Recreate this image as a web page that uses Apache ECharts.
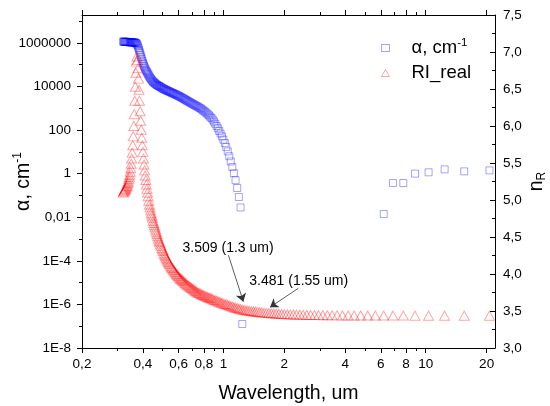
<!DOCTYPE html>
<html>
<head>
<meta charset="utf-8">
<title>Si: absorption and refractive index</title>
<script src="https://cdn.jsdelivr.net/npm/echarts@6/dist/echarts.min.js"></script>
<style>
  html, body { margin: 0; padding: 0; background: #fff; }
  #chart { width: 550px; height: 406px; }
</style>
</head>
<body>
<div id="chart"></div>
<script>
// Wavelength grid, um (photon-energy steps of 0.02 eV, 3.88 eV down to 0.06 eV)
const wavelength = [
  0.3196, 0.3212, 0.3229, 0.3246, 0.3263, 0.3280, 0.3297, 0.3315, 0.3333, 0.3351,
  0.3369, 0.3388, 0.3406, 0.3425, 0.3444, 0.3463, 0.3483, 0.3502, 0.3522, 0.3542,
  0.3563, 0.3583, 0.3604, 0.3625, 0.3647, 0.3668, 0.3690, 0.3712, 0.3735, 0.3757,
  0.3780, 0.3803, 0.3827, 0.3850, 0.3875, 0.3899, 0.3924, 0.3949, 0.3974, 0.4000,
  0.4026, 0.4052, 0.4078, 0.4105, 0.4133, 0.4161, 0.4189, 0.4217, 0.4246, 0.4275,
  0.4305, 0.4335, 0.4366, 0.4397, 0.4428, 0.4460, 0.4492, 0.4525, 0.4558, 0.4592,
  0.4626, 0.4661, 0.4696, 0.4732, 0.4769, 0.4806, 0.4843, 0.4881, 0.4920, 0.4959,
  0.4999, 0.5040, 0.5081, 0.5123, 0.5166, 0.5209, 0.5254, 0.5298, 0.5344, 0.5391,
  0.5438, 0.5486, 0.5535, 0.5585, 0.5636, 0.5687, 0.5740, 0.5794, 0.5848, 0.5904,
  0.5961, 0.6019, 0.6078, 0.6138, 0.6199, 0.6262, 0.6326, 0.6391, 0.6458, 0.6526,
  0.6595, 0.6666, 0.6738, 0.6812, 0.6888, 0.6965, 0.7045, 0.7126, 0.7208, 0.7293,
  0.7380, 0.7469, 0.7560, 0.7653, 0.7749, 0.7847, 0.7948, 0.8051, 0.8157, 0.8266,
  0.8377, 0.8492, 0.8610, 0.8731, 0.8856, 0.8984, 0.9117, 0.9253, 0.9393, 0.9537,
  0.9686, 0.9840, 0.9999, 1.0163, 1.0332, 1.0507, 1.0688, 1.0876, 1.1070, 1.1271,
  1.1480, 1.1697, 1.1922, 1.2155, 1.2398,
  1.2651, 1.2915, 1.3190, 1.3477, 1.3776, 1.4089, 1.4417, 1.4760, 1.5120, 1.5498,
  1.5895, 1.6314, 1.6755, 1.7220, 1.7712, 1.8233, 1.8786, 1.9373, 1.9997, 2.0664,
  2.1377, 2.2140, 2.2960, 2.3843, 2.4797, 2.5830, 2.6953, 2.8178, 2.9520, 3.0996,
  3.2627, 3.4440, 3.6466, 3.8745, 4.1328, 4.4280, 4.7686, 5.1660, 5.6356, 6.1992,
  6.8880, 7.7490, 8.8560, 10.332, 12.398, 15.498, 20.664
];

// Real part of the refractive index, one value per wavelength
const nReal = [
  5.10, 5.11, 5.12, 5.13, 5.14, 5.15, 5.16, 5.18, 5.19, 5.21,
  5.23, 5.25, 5.28, 5.31, 5.34, 5.38, 5.43, 5.49, 5.56, 5.64,
  5.74, 5.86, 6.00, 6.16, 6.34, 6.53, 6.72, 6.87, 6.94, 6.89,
  6.78, 6.64, 6.49, 6.34, 6.20, 6.07, 5.95, 5.84, 5.74, 5.65,
  5.56, 5.48, 5.40, 5.33, 5.27, 5.21, 5.15, 5.10, 5.05, 4.99,
  4.94, 4.90, 4.86, 4.82, 4.79, 4.76, 4.72, 4.69, 4.66, 4.63,
  4.60, 4.57, 4.54, 4.51, 4.48, 4.45, 4.43, 4.40, 4.38, 4.35,
  4.33, 4.31, 4.28, 4.26, 4.24, 4.22, 4.20, 4.18, 4.16, 4.14,
  4.13, 4.11, 4.09, 4.08, 4.06, 4.05, 4.03, 4.02, 4.00, 3.99,
  3.975, 3.965, 3.95, 3.94, 3.93, 3.92, 3.905, 3.895, 3.88, 3.87,
  3.86, 3.85, 3.84, 3.83, 3.82, 3.81, 3.80, 3.79, 3.78, 3.77,
  3.76, 3.75, 3.745, 3.74, 3.73, 3.72, 3.715, 3.71, 3.70, 3.695,
  3.69, 3.68, 3.675, 3.67, 3.66, 3.65, 3.645, 3.64, 3.63, 3.625,
  3.615, 3.61, 3.60, 3.595, 3.59, 3.58, 3.575, 3.565, 3.56, 3.55,
  3.545, 3.54, 3.53, 3.525, 3.518,
  3.513, 3.509, 3.505, 3.501, 3.497, 3.494, 3.491, 3.488, 3.484, 3.481,
  3.478, 3.475, 3.472, 3.469, 3.467, 3.464, 3.462, 3.460, 3.458, 3.456,
  3.454, 3.452, 3.451, 3.449, 3.448, 3.447, 3.446, 3.445, 3.444, 3.443,
  3.442, 3.441, 3.441, 3.440, 3.440, 3.439, 3.439, 3.439, 3.438, 3.438,
  3.438, 3.438, 3.437, 3.437, 3.437, 3.437, 3.437
];

// Absorption coefficient, cm-1, for the first 145 wavelengths (interband edge)
const alphaBand = [
  1.15e6, 1.15e6, 1.12e6, 1.12e6, 1.12e6, 1.12e6, 1.12e6, 1.10e6, 1.10e6, 1.10e6,
  1.10e6, 1.10e6, 1.07e6, 1.07e6, 1.07e6, 1.07e6, 1.07e6, 1.07e6, 1.05e6, 1.05e6,
  1.05e6, 1.05e6, 1.05e6, 1.05e6, 1.02e6, 1.02e6, 1.00e6, 9.55e5, 8.91e5, 7.94e5,
  6.92e5, 5.89e5, 4.90e5, 4.07e5, 3.39e5, 2.75e5, 2.24e5, 1.82e5, 1.48e5, 1.23e5,
  1.05e5, 8.91e4, 7.59e4, 6.61e4, 5.75e4, 5.13e4, 4.57e4, 4.07e4, 3.63e4, 3.24e4,
  2.88e4, 2.57e4, 2.34e4, 2.14e4, 1.95e4, 1.78e4, 1.66e4, 1.55e4, 1.48e4, 1.38e4,
  1.32e4, 1.23e4, 1.17e4, 1.12e4, 1.07e4, 1.05e4, 1.00e4, 9550, 9120, 8710,
  8320, 7940, 7590, 7410, 7080, 6760, 6610, 6310, 6170, 5890,
  5620, 5500, 5250, 5010, 4900, 4680, 4470, 4370, 4170, 3980,
  3800, 3630, 3470, 3310, 3160, 2950, 2820, 2690, 2510, 2400,
  2240, 2140, 2000, 1910, 1780, 1700, 1580, 1510, 1410, 1320,
  1260, 1170, 1100, 1020, 955, 871, 794, 724, 661, 589,
  525, 468, 407, 355, 302, 245, 195, 155, 120, 91.2,
  69.2, 51.3, 36.3, 25.1, 16.6, 10.5, 6.31, 3.63, 2.0, 1.05,
  0.50, 0.219, 0.085, 0.028, 1.26e-7
];

// Absorption coefficient, cm-1, for the last 8 wavelengths (free-carrier range)
const alphaFreeCarrier = [0.014, 0.37, 0.37, 1.0, 1.15, 1.57, 1.27, 1.41];

// Axis ticks and labels
const xMajorTicks = [0.2, 0.4, 0.6, 0.8, 1, 2, 4, 6, 8, 10, 20];
const xMinorTicks = [0.3, 0.5, 0.7, 0.9, 3, 5, 7, 9];
const alphaTickValues = [1e-8, 1e-6, 1e-4, 1e-2, 1, 1e2, 1e4, 1e6];
const alphaTickLabels = ['1E-8', '1E-6', '1E-4', '0,01', '1', '100', '10000', '1000000'];
const alphaMinorTicks = [1e-7, 1e-5, 1e-3, 0.1, 10, 1e3, 1e5, 1e7];

// Annotated points on the refractive-index curve
const callouts = [
  { wl: 1.2915, wlText: '1.3 um',  textAt: [1.0548, 4.348], from: [1.0584, 4.254], to: [1.2549, 3.626] },
  { wl: 1.5498, wlText: '1.55 um', textAt: [2.357, 3.905],  from: [2.343, 3.806],  to: [1.6995, 3.551] }
];

const FONT = 'Liberation Sans, Arial, sans-serif';

const alphaData = alphaBand.map((a, i) => [wavelength[i], a])
  .concat(alphaFreeCarrier.map((a, i) => [wavelength[wavelength.length - alphaFreeCarrier.length + i], a]));
const nData = nReal.map((n, i) => [wavelength[i], n]);

const calloutText = callouts.map(c => nReal[wavelength.indexOf(c.wl)].toFixed(3) + ' (' + c.wlText + ')');

const blackLine = { show: true, lineStyle: { color: '#000', width: 1 } };
const xRange = { min: 0.2, max: 22 };
const alphaRange = { min: 1e-8, max: 1.9e7 };

function commaDecimal(v) { return String(v).replace('.', ','); }
function alphaLabel(v) {
  const i = alphaTickValues.findIndex(t => Math.abs(Math.log10(t) - Math.log10(v)) < 1e-6);
  return i >= 0 ? alphaTickLabels[i] : '';
}

function xAxisDef(position, ticks, len, withLabels) {
  return Object.assign({
    type: 'log', position: position, gridIndex: 0,
    axisLine: withLabels !== null ? blackLine : { show: false },
    axisTick: { show: true, customValues: ticks, length: len, lineStyle: { color: '#000', width: 1 } },
    axisLabel: withLabels ? {
      show: true, customValues: ticks, formatter: commaDecimal,
      color: '#000', fontSize: 13.5, fontFamily: FONT, margin: 9
    } : { show: false },
    splitLine: { show: false },
    minorTick: { show: false }
  }, xRange);
}

const chart = echarts.init(document.getElementById('chart'), null, { renderer: 'canvas' });

chart.setOption({
  animation: false,
  backgroundColor: '#fff',
  textStyle: { fontFamily: FONT },
  grid: { left: 82, right: 55, top: 15, bottom: 58, containLabel: false, outerBoundsMode: 'none' },
  legend: {
    orient: 'vertical', left: 381, top: 37, padding: 0,
    itemWidth: 8, itemHeight: 7, itemGap: 6,
    selectedMode: false,
    itemStyle: { borderWidth: 1 },
    formatter: name => name === 'α, cm-1' ? '{m|α, cm}{s|-1}' : '{m|' + name + '}',
    textStyle: {
      color: '#000', fontFamily: FONT, fontSize: 18.5,
      rich: {
        m: { fontSize: 18.5, fontFamily: FONT, color: '#000', lineHeight: 22, padding: [0, 0, 0, 17] },
        s: { fontSize: 11.5, fontFamily: FONT, color: '#000', verticalAlign: 'top', lineHeight: 13 }
      }
    },
    data: ['α, cm-1', 'RI_real']
  },
  xAxis: [
    Object.assign(xAxisDef('bottom', xMajorTicks, 5, true), {
      name: 'Wavelength, um', nameLocation: 'middle', nameGap: 36,
      nameTextStyle: { color: '#000', fontSize: 19.5, fontFamily: FONT }
    }),
    xAxisDef('bottom', xMinorTicks, 3, null),
    xAxisDef('top', xMajorTicks, 5, false),
    xAxisDef('top', xMinorTicks, 3, null)
  ],
  yAxis: [
    Object.assign({
      type: 'log', position: 'left',
      axisLine: blackLine,
      axisTick: { show: true, customValues: alphaTickValues, length: 5, lineStyle: { color: '#000' } },
      axisLabel: {
        customValues: alphaTickValues, formatter: alphaLabel,
        color: '#000', fontSize: 13.5, fontFamily: FONT, margin: 11
      },
      splitLine: { show: false },
      minorTick: { show: false },
      name: '{m|α, cm}{s|-1}', nameLocation: 'middle', nameGap: 47, nameMoveOverlap: false,
      nameTextStyle: {
        color: '#000', fontSize: 19.5, fontFamily: FONT,
        rich: {
          m: { fontSize: 19.5, fontFamily: FONT, color: '#000', lineHeight: 23 },
          s: { fontSize: 12, fontFamily: FONT, color: '#000', verticalAlign: 'top', lineHeight: 13 }
        }
      }
    }, alphaRange),
    {
      type: 'value', position: 'right', min: 3, max: 7.5, interval: 0.5,
      axisLine: blackLine,
      axisTick: { show: true, inside: true, length: 5, lineStyle: { color: '#000' } },
      minorTick: { show: true, splitNumber: 2, length: 3, lineStyle: { color: '#000' } },
      axisLabel: {
        formatter: v => v.toFixed(1).replace('.', ','),
        color: '#000', fontSize: 13.5, fontFamily: FONT, margin: 8
      },
      splitLine: { show: false },
      name: '{n|n}{r|R}', nameLocation: 'middle', nameGap: 30, nameMoveOverlap: false,
      nameTextStyle: {
        color: '#000', fontSize: 19.5, fontFamily: FONT,
        rich: {
          n: { fontSize: 19.5, fontFamily: FONT, color: '#000', lineHeight: 23 },
          r: { fontSize: 12, fontFamily: FONT, color: '#000', verticalAlign: 'bottom', lineHeight: 13 }
        }
      }
    },
    Object.assign({
      type: 'log', position: 'left',
      axisLine: { show: false },
      axisTick: { show: true, customValues: alphaMinorTicks, length: 3, lineStyle: { color: '#000' } },
      axisLabel: { show: false },
      splitLine: { show: false },
      minorTick: { show: false }
    }, alphaRange)
  ],
  series: [
    {
      type: 'scatter', name: 'α, cm-1', xAxisIndex: 0, yAxisIndex: 0,
      data: alphaData,
      symbol: 'rect', symbolSize: 7,
      itemStyle: { color: 'rgba(0,0,0,0)', borderColor: 'rgba(0,0,255,0.45)', borderWidth: 1 },
      emphasis: { disabled: true },
      silent: true
    },
    {
      type: 'scatter', name: 'RI_real', xAxisIndex: 0, yAxisIndex: 1,
      data: nData,
      symbol: 'triangle', symbolSize: [10, 9],
      itemStyle: { color: 'rgba(0,0,0,0)', borderColor: 'rgba(255,0,0,0.45)', borderWidth: 1 },
      emphasis: { disabled: true },
      silent: true,
      markLine: {
        silent: true,
        symbol: ['none', 'arrow'],
        symbolSize: 8,
        label: { show: false },
        emphasis: { disabled: true },
        lineStyle: { color: '#333', width: 0.8, type: 'solid' },
        data: callouts.map(c => [{ coord: c.from }, { coord: c.to }])
      },
      markPoint: {
        silent: true,
        symbol: 'circle', symbolSize: 1,
        itemStyle: { color: 'rgba(0,0,0,0)' },
        label: { show: true, position: 'inside', color: '#000', fontSize: 14, fontFamily: FONT },
        emphasis: { disabled: true },
        data: callouts.map((c, i) => ({ coord: c.textAt, label: { formatter: calloutText[i] } }))
      }
    }
  ]
});
</script>
</body>
</html>
